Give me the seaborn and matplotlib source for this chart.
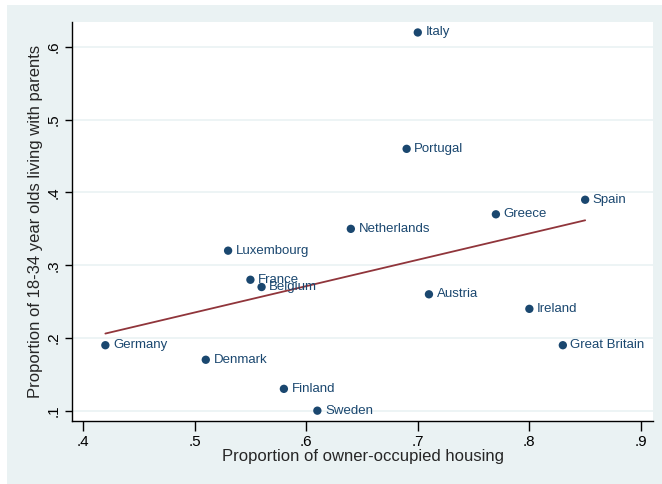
import matplotlib
matplotlib.use("Agg")
import matplotlib.pyplot as plt
import seaborn as sns
import pandas as pd
from matplotlib.patches import Rectangle

# values
countries = ["Italy", "Portugal", "Spain", "Greece", "Netherlands", "Luxembourg",
             "France", "Belgium", "Austria", "Ireland", "Great Britain", "Germany",
             "Denmark", "Finland", "Sweden"]
owner_occupied = [0.70, 0.69, 0.85, 0.77, 0.64, 0.53, 0.55, 0.56, 0.71, 0.80,
                  0.83, 0.42, 0.51, 0.58, 0.61]
with_parents = [0.62, 0.46, 0.39, 0.37, 0.35, 0.32, 0.28, 0.27, 0.26, 0.24,
                0.19, 0.19, 0.17, 0.13, 0.10]
x_ticks = [0.4, 0.5, 0.6, 0.7, 0.8, 0.9]
y_ticks = [0.1, 0.2, 0.3, 0.4, 0.5, 0.6]

df = pd.DataFrame({"country": countries, "owner": owner_occupied, "parents": with_parents})

sns.set_style("white")
plt.rcParams["font.family"] = ["Liberation Sans", "DejaVu Sans"]

navy = "#1a476f"
maroon = "#90353b"
bg = "#eaf2f3"

fig = plt.figure(figsize=(6.62, 4.84), dpi=100)
fig.patch.set_facecolor("white")
# stata-like outer region
fig.patches.append(Rectangle((7 / 662, 0), 655 / 662, 479 / 484,
                             transform=fig.transFigure, facecolor=bg,
                             edgecolor="none", zorder=-10))
ax = fig.add_axes([72 / 662, 1 - 421 / 484, 581 / 662, 399 / 484])
ax.set_facecolor("white")

for y in y_ticks:
    ax.axhline(y, color=bg, lw=1.2, zorder=0)

sns.regplot(data=df, x="owner", y="parents", scatter=False, ci=None, truncate=True,
            line_kws={"color": maroon, "lw": 1.3}, ax=ax)
sns.scatterplot(data=df, x="owner", y="parents", color=navy, s=36,
                edgecolor="none", ax=ax, zorder=3)

for _, r in df.iterrows():
    ax.annotate(r["country"], (r["owner"], r["parents"]), xytext=(5.5, 0),
                textcoords="offset points", va="center", ha="left",
                color=navy, fontsize=9.5)

ax.set_xlim(0.3901, 0.9108)
ax.set_ylim(0.0858, 0.6344)
ax.set_xticks(x_ticks)
ax.set_yticks(y_ticks)
ax.set_xticklabels([f"{t:.1f}".lstrip("0") for t in x_ticks])
ax.set_yticklabels([f"{t:.1f}".lstrip("0") for t in y_ticks], rotation=90, va="center")
ax.tick_params(axis="both", direction="out", width=1, color="black",
               labelsize=11, labelcolor="black")
ax.tick_params(axis="x", bottom=True, length=7, pad=3)
ax.tick_params(axis="y", left=True, length=5, pad=3)

for s in ["top", "right"]:
    ax.spines[s].set_visible(False)
for s in ["left", "bottom"]:
    ax.spines[s].set_color("black")
    ax.spines[s].set_linewidth(1)

ax.set_xlabel("Proportion of owner-occupied housing", fontsize=12, labelpad=0)
ax.set_ylabel("Proportion of 18-34 year olds living with parents", fontsize=12, labelpad=3)

fig.savefig("out.png", dpi=100)
